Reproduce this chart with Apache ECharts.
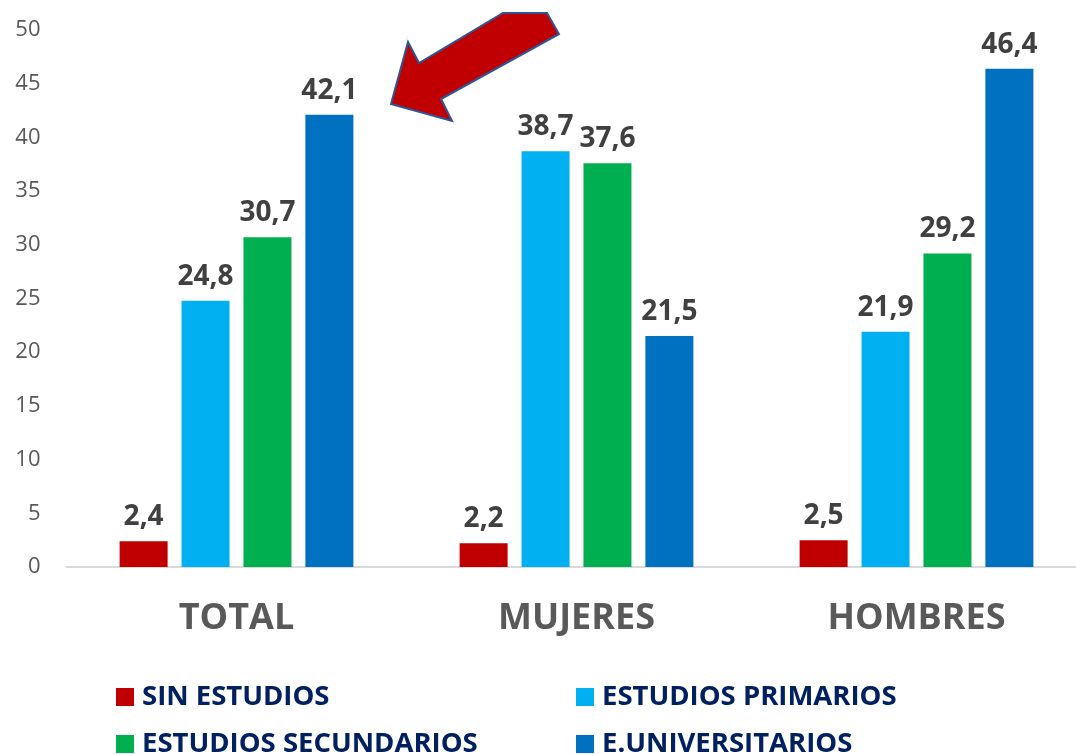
<!DOCTYPE html>
<html>
<head>
<meta charset="utf-8">
<script src="https://cdn.jsdelivr.net/npm/echarts@6/dist/echarts.min.js"></script>
<style>html,body{margin:0;padding:0;background:#fff}#c{width:1076px;height:754px}</style>
</head>
<body>
<div id="c"></div>
<script>
const categories = ['TOTAL', 'MUJERES', 'HOMBRES'];
const sinEstudios = [2.4, 2.2, 2.5];
const primarios = [24.8, 38.7, 21.9];
const secundarios = [30.7, 37.6, 29.2];
const universitarios = [42.1, 21.5, 46.4];
const seriesNames = ['SIN ESTUDIOS', 'ESTUDIOS PRIMARIOS', 'ESTUDIOS SECUNDARIOS', 'E.UNIVERSITARIOS'];
const colors = ['#C00000', '#00B0F0', '#00B050', '#0070C0'];
const seriesData = [sinEstudios, primarios, secundarios, universitarios];

const font = '"Open Sans", "Noto Sans", sans-serif';
const chart = echarts.init(document.getElementById('c'));

const legendPos = [[116, 683], [576, 683], [116, 730], [576, 730]];
const legends = seriesNames.map((n, i) => ({
  data: [n],
  left: legendPos[i][0],
  top: legendPos[i][1],
  icon: 'rect',
  itemWidth: 18,
  itemHeight: 18,
  padding: 0,
  selectedMode: false,
  textStyle: { fontFamily: font, fontSize: 27.5, fontWeight: 'bold', color: '#002060', padding: [0, 0, 0, 3] }
}));

chart.setOption({
  animation: false,
  color: colors,
  grid: { left: 66.5, width: 1020, top: 30, bottom: 187, outerBoundsMode: 'none' },
  legend: legends,
  xAxis: {
    type: 'category',
    data: categories,
    axisLine: { lineStyle: { color: '#D9D9D9', width: 2 } },
    axisTick: { show: false },
    axisLabel: { fontFamily: font, fontSize: 36, fontWeight: 'bold', color: '#595959', margin: 34 }
  },
  yAxis: {
    type: 'value', min: 0, max: 50, interval: 5,
    splitLine: { show: false },
    axisLine: { show: false },
    axisTick: { show: false },
    axisLabel: { fontFamily: font, fontSize: 22, color: '#595959', margin: 26 }
  },
  series: seriesData.map((d, i) => ({
    name: seriesNames[i],
    type: 'bar',
    data: d,
    barWidth: 48,
    barGap: '29%',
    itemStyle: { color: colors[i] },
    label: {
      show: true, position: 'top', distance: 10,
      fontFamily: font, fontSize: 28, fontWeight: 'bold', color: '#404040',
      formatter: p => String(p.value).replace('.', ',')
    }
  })),
  graphic: [{
    type: 'polygon',
    shape: { points: [[391,104],[408,42],[419,63],[503,13],[547,13],[559,34],[441,99],[452,121]] },
    style: { fill: '#C00000', stroke: '#2F5597', lineWidth: 2, lineJoin: 'miter' },
    z: 100
  }]
});
</script>
</body>
</html>
